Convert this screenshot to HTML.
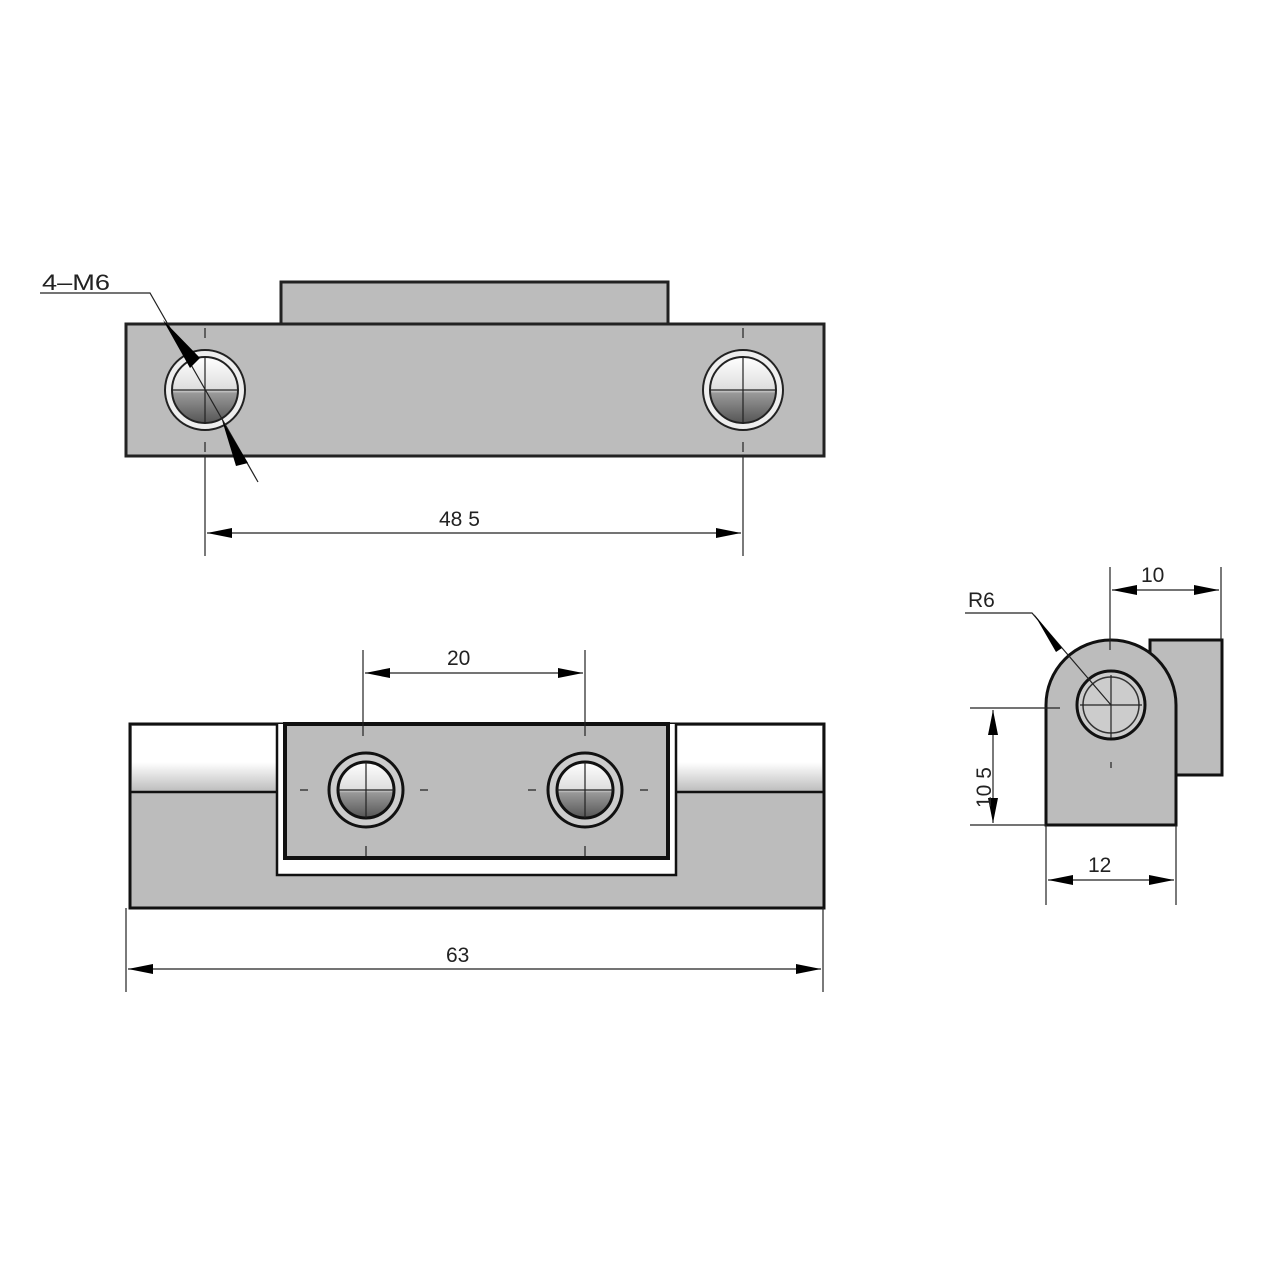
<!DOCTYPE html>
<html><head><style>html,body{margin:0;padding:0;background:#fff}svg{display:block}</style></head><body>
<svg width="1280" height="1280" viewBox="0 0 1280 1280" xmlns="http://www.w3.org/2000/svg" font-family="Liberation Sans, sans-serif">
<defs>
<marker id="a" viewBox="0 0 20 8" refX="20" refY="4" markerWidth="40" markerHeight="10" markerUnits="userSpaceOnUse" orient="auto-start-reverse"><path d="M0,0 L20,4 L0,8 Z" fill="#000"/></marker>
<linearGradient id="ball" x1="0" y1="0" x2="0" y2="1"><stop offset="0" stop-color="#fff"/><stop offset="0.5" stop-color="#ddd"/><stop offset="0.55" stop-color="#999"/><stop offset="1" stop-color="#555"/></linearGradient>
<linearGradient id="wb" x1="0" y1="0" x2="0" y2="1"><stop offset="0" stop-color="#fff"/><stop offset="0.55" stop-color="#fff"/><stop offset="1" stop-color="#bbb"/></linearGradient>
</defs>
<g stroke="#222" stroke-width="3" fill="#bcbcbc">
<rect x="281" y="282" width="387" height="42"/>
<rect x="126" y="324" width="698" height="132"/>
</g>
<g fill="url(#ball)" stroke="#222" stroke-width="2">
<circle cx="205" cy="390" r="40" fill="#eee"/><circle cx="205" cy="390" r="33"/>
<circle cx="743" cy="390" r="40" fill="#eee"/><circle cx="743" cy="390" r="33"/>
</g>
<g stroke="#222" stroke-width="1.2" fill="none">
<path d="M205,356V424M172,390H238M743,356V424M710,390H776"/>
<path d="M205,328v10M205,442v10M743,328v10M743,442v10"/>
<path d="M205,456V556M743,456V556"/>
<path d="M207,533H741" marker-start="url(#a)" marker-end="url(#a)"/>
<path d="M40,293H150L258,482"/>
</g>
<path d="M163,320L190,368L200,358Z" fill="#000"/><path d="M222,420L248,463L236,466Z" fill="#000"/>
<text x="42" y="290" font-size="22" fill="#222" textLength="68" lengthAdjust="spacingAndGlyphs">4–M6</text>
<text x="439" y="526" font-size="21" fill="#222">48 5</text>

<rect x="130" y="724" width="694" height="184" fill="#bcbcbc" stroke="#111" stroke-width="3"/>
<rect x="132" y="726" width="145" height="66" fill="url(#wb)"/>
<rect x="670" y="726" width="152" height="66" fill="url(#wb)"/>
<path d="M130,792H277M670,792H824" stroke="#111" stroke-width="2.5"/>
<path d="M277,724V875H676V724" fill="#fff" stroke="#111" stroke-width="2.5"/>
<rect x="285" y="724" width="383" height="134" fill="#bcbcbc" stroke="#111" stroke-width="4"/>
<g fill="url(#ball)" stroke="#111" stroke-width="3">
<circle cx="366" cy="790" r="37" fill="#ccc"/><circle cx="366" cy="790" r="28"/>
<circle cx="585" cy="790" r="37" fill="#ccc"/><circle cx="585" cy="790" r="28"/>
</g>
<g stroke="#222" stroke-width="1.2" fill="none">
<path d="M366,762V818M338,790H394M585,762V818M557,790H613"/>
<path d="M363,650V736M585,650V736M366,846v10M585,846v10M300,790h8M420,790h8M528,790h8M640,790h8"/>
<path d="M365,673H583" marker-start="url(#a)" marker-end="url(#a)"/>
<path d="M126,908V992M823,908V992"/>
<path d="M128,969H821" marker-start="url(#a)" marker-end="url(#a)"/>
</g>
<text x="447" y="665" font-size="21" fill="#222">20</text>
<text x="446" y="962" font-size="21" fill="#222">63</text>

<rect x="1150" y="640" width="72" height="135" fill="#bcbcbc" stroke="#111" stroke-width="3"/>
<path d="M1046,825V705A65,65 0 0 1 1176,705V825Z" fill="#bcbcbc" stroke="#111" stroke-width="3"/>
<circle cx="1111" cy="705" r="34" fill="#ccc" stroke="#111" stroke-width="3"/>
<circle cx="1111" cy="705" r="28" fill="none" stroke="#333" stroke-width="1.5"/>
<g stroke="#222" stroke-width="1.2" fill="none">
<path d="M1111,675V738M1080,705H1142M1111,762v6"/>
<path d="M1110,567V650M1221,567V640"/>
<path d="M1112,590H1219" marker-start="url(#a)" marker-end="url(#a)"/>
<path d="M970,708H1060M970,825H1046"/>
<path d="M993,710V823" marker-start="url(#a)" marker-end="url(#a)"/>
<path d="M1046,825V905M1176,825V905"/>
<path d="M1048,880H1174" marker-start="url(#a)" marker-end="url(#a)"/>
<path d="M965,613H1032L1111,705"/>
</g>
<path d="M1034,614L1062,648L1056,652Z" fill="#000"/>
<text x="1141" y="582" font-size="21" fill="#222">10</text>
<text x="968" y="607" font-size="21" fill="#222">R6</text>
<text x="1088" y="872" font-size="21" fill="#222">12</text>
<text transform="translate(991,808) rotate(-90)" font-size="21" fill="#222">10 5</text>
</svg>
</body></html>
